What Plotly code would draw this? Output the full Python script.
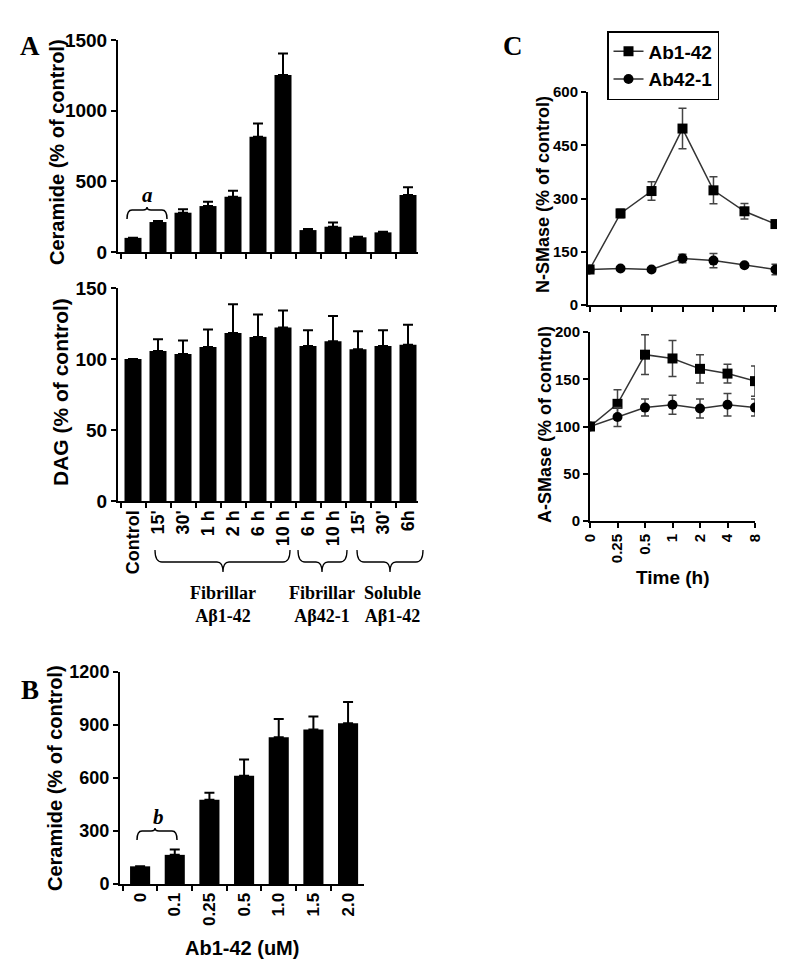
import plotly.graph_objects as go

W, H = 800, 971
OX, OY = 8, 8  # page body margin offset

# ---------------- data ----------------
# Panel A (ceramide / DAG time course)
a_groups = ["Control", "Fibrillar Aβ1-42", "Fibrillar Aβ1-42", "Fibrillar Aβ1-42",
            "Fibrillar Aβ1-42", "Fibrillar Aβ1-42", "Fibrillar Aβ1-42",
            "Fibrillar Aβ42-1", "Fibrillar Aβ42-1",
            "Soluble Aβ1-42", "Soluble Aβ1-42", "Soluble Aβ1-42"]
a_labels = ["Control", "15'", "30'", "1 h", "2 h", "6 h", "10 h", "6 h", "10 h", "15'", "30'", "6h"]
ceramide_a = [100, 212, 278, 325, 391, 815, 1252, 155, 179, 104, 139, 403]
ceramide_a_err = [0, 8, 24, 31, 43, 95, 152, 8, 30, 4, 5, 55]
dag_a = [100, 105.6, 103.5, 108.5, 118.3, 115.5, 122.1, 109.2, 112.5, 106.8, 109.2, 110.1]
dag_a_err = [0, 8.3, 9.5, 12.2, 20.2, 15.8, 12.0, 11.0, 17.8, 12.7, 11.0, 14.1]

# Panel B (dose response)
b_conc = ["0", "0.1", "0.25", "0.5", "1.0", "1.5", "2.0"]
ceramide_b = [100, 165, 477, 613, 830, 875, 910]
ceramide_b_err = [0, 30, 40, 92, 104, 73, 120]

# Panel C (time course, SMase activity)
c_time = ["0", "0.25", "0.5", "1", "2", "4", "8"]
nsmase_142 = [100, 258, 321, 497, 323, 264, 228]
nsmase_142_err = [0, 12, 26, 57, 38, 22, 10]
nsmase_421 = [100, 103, 100, 131, 125, 112, 100]
nsmase_421_err = [0, 5, 5, 12, 20, 5, 15]
asmase_142 = [100, 124, 176, 172, 161, 156, 148]
asmase_142_err = [0, 15, 21, 19, 15, 10, 16]
asmase_421 = [100, 110, 120, 123, 119, 123, 120]
asmase_421_err = [0, 10, 9, 10, 10, 12, 9]

# ---------------- helpers ----------------
def px(x):
    return (x - OX) / W

def py(y):
    return 1 - (y - OY) / H

def xd(a, b):
    return [px(a), px(b)]

def yd(top, bottom):
    return [py(bottom), py(top)]

def pt(x, y):
    return f"{px(x):.5f},{py(y):.5f}"

SANS = "Liberation Sans"
SERIF = "Liberation Serif"

a_keys = [f"{g}|{l}" for g, l in zip(a_groups, a_labels)]
b_keys = [f"{c} uM" for c in b_conc]
c_idx = list(range(len(c_time)))

fig = go.Figure()

def bar_trace(x, y, err, xa, ya, width):
    return go.Bar(
        x=x, y=y, xaxis=xa, yaxis=ya, width=width,
        marker=dict(color="black", line=dict(width=0)),
        error_y=dict(type="data", array=err, arrayminus=[0] * len(err), symmetric=False,
                     color="black", thickness=2, width=5),
        showlegend=False,
    )

fig.add_trace(bar_trace(a_keys, ceramide_a, ceramide_a_err, "x", "y", 0.68))
fig.add_trace(bar_trace(a_keys, dag_a, dag_a_err, "x2", "y2", 0.68))
fig.add_trace(bar_trace(b_keys, ceramide_b, ceramide_b_err, "x3", "y3", 0.58))

def line_trace(y, err, symbol, name, xa, ya, legend):
    return go.Scatter(
        x=c_idx, y=y, xaxis=xa, yaxis=ya, name=name, mode="lines+markers",
        line=dict(color="#333333", width=1.5),
        marker=dict(symbol=symbol, size=10, color="black"),
        error_y=dict(type="data", array=err, color="#444444", thickness=1.5, width=4),
        showlegend=legend,
    )

fig.add_trace(line_trace(nsmase_142, nsmase_142_err, "square", "Ab1-42", "x4", "y4", True))
fig.add_trace(line_trace(nsmase_421, nsmase_421_err, "circle", "Ab42-1", "x4", "y4", True))
fig.add_trace(line_trace(asmase_142, asmase_142_err, "square", "Ab1-42", "x5", "y5", False))
fig.add_trace(line_trace(asmase_421, asmase_421_err, "circle", "Ab42-1", "x5", "y5", False))

axis_common = dict(showline=True, linecolor="black", linewidth=2, ticks="outside",
                   ticklen=5, tickwidth=1.5, tickcolor="black", showgrid=False,
                   zeroline=False, automargin=False)

tf = lambda s: dict(family=SANS, size=s, color="black", weight="bold")

fig.update_layout(
    width=W, height=H, margin=dict(l=0, r=0, t=0, b=0),
    paper_bgcolor="white", plot_bgcolor="white",
    font=dict(family=SANS, color="black"),
    bargap=0.3,
    # A top: ceramide
    xaxis=dict(domain=xd(118, 418), anchor="y", type="category", range=[-0.6, 11.4],
               tickson="boundaries", showticklabels=False, **axis_common),
    yaxis=dict(domain=yd(40, 252), anchor="x", range=[0, 1500], tickvals=[0, 500, 1000, 1500],
               tickfont=tf(19), **axis_common),
    # A bottom: DAG
    xaxis2=dict(domain=xd(118, 418), anchor="y2", type="category", range=[-0.6, 11.4],
                tickson="boundaries", tickmode="array", tickvals=a_keys, ticktext=a_labels,
                tickangle=-90, tickfont=tf(18), **axis_common),
    yaxis2=dict(domain=yd(288, 501), anchor="x2", range=[0, 150], tickvals=[0, 50, 100, 150],
                tickfont=tf(19), **axis_common),
    # B
    xaxis3=dict(domain=xd(120, 364), anchor="y3", type="category", range=[-0.58, 6.46],
                tickson="boundaries", tickmode="array", tickvals=b_keys, ticktext=b_conc,
                tickangle=-90, tickfont=tf(17), **axis_common),
    yaxis3=dict(domain=yd(672, 884), anchor="x3", range=[0, 1200],
                tickvals=[0, 300, 600, 900, 1200], tickfont=tf(18), **axis_common),
    # C top: N-SMase
    xaxis4=dict(domain=xd(588, 777), anchor="y4", range=[-0.05, 6.05], tickmode="array",
                tickvals=c_idx, showticklabels=False, **axis_common),
    yaxis4=dict(domain=yd(92, 305), anchor="x4", range=[0, 600],
                tickvals=[0, 150, 300, 450, 600], tickfont=tf(15), **axis_common),
    # C bottom: A-SMase
    xaxis5=dict(domain=xd(590, 755), anchor="y5", range=[0, 6.0], tickmode="array",
                tickvals=c_idx, ticktext=c_time, tickangle=-90, tickfont=tf(15), **axis_common),
    yaxis5=dict(domain=yd(332, 521), anchor="x5", range=[0, 200],
                tickvals=[0, 50, 100, 150, 200], tickfont=tf(15), **axis_common),
    legend=dict(x=px(607), y=py(31), xanchor="left", yanchor="top",
                bordercolor="black", borderwidth=1.5, bgcolor="white",
                font=dict(family=SANS, size=19, color="black", weight="bold"),
                itemwidth=30, tracegroupgap=4),
)

ann = []
def text(x, y, t, size, family=SANS, angle=0, xanchor="center", yanchor="middle", bold=True, italic=False):
    ann.append(dict(x=px(x), y=py(y), xref="paper", yref="paper", text=t, showarrow=False,
                    textangle=angle, xanchor=xanchor, yanchor=yanchor,
                    font=dict(family=family, size=size, color="black",
                              weight="bold" if bold else "normal",
                              style="italic" if italic else "normal")))

# axis titles
text(57, 152, "Ceramide (% of control)", 20, angle=-90)
text(61, 392, "DAG (% of control)", 21, angle=-90)
text(55, 778, "Ceramide (% of control)", 20, angle=-90)
text(242, 948, "Ab1-42 (uM)", 20)
text(543, 195, "N-SMase (% of control)", 18, angle=-90)
text(545, 425, "A-SMase (% of control)", 18, angle=-90)
text(673, 577, "Time (h)", 19)

# panel letters
text(30, 46, "A", 27, family=SERIF)
text(30, 690, "B", 27, family=SERIF)
text(513, 46, "C", 27, family=SERIF)

# group labels
text(223, 604, "Fibrillar<br>Aβ1-42", 18, family=SERIF)
text(322, 604, "Fibrillar<br>Aβ42-1", 18, family=SERIF)
text(392, 604, "Soluble<br>Aβ1-42", 18, family=SERIF)

# significance letters
text(147, 209, "a", 21, family=SERIF, yanchor="bottom", italic=True)
text(158, 831, "b", 21, family=SERIF, yanchor="bottom", italic=True)

fig.update_layout(annotations=ann)

# braces
shapes = []
def brace_down(x1, x2, xm, ytop, yline, ybot):
    path = (f"M{pt(x1, ytop)} Q{pt(x1, yline)} {pt(x1 + 7, yline)} L{pt(xm - 6, yline)} "
            f"Q{pt(xm, yline)} {pt(xm, ybot)} Q{pt(xm, yline)} {pt(xm + 6, yline)} "
            f"L{pt(x2 - 7, yline)} Q{pt(x2, yline)} {pt(x2, ytop)}")
    shapes.append(dict(type="path", path=path, xref="paper", yref="paper",
                       line=dict(color="black", width=1.3)))

def brace_up(x1, x2, xm, yend, yline, ypeak):
    path = (f"M{pt(x1, yend)} Q{pt(x1, yline)} {pt(x1 + 5, yline)} L{pt(xm - 4, yline)} "
            f"Q{pt(xm, yline)} {pt(xm, ypeak)} Q{pt(xm, yline)} {pt(xm + 4, yline)} "
            f"L{pt(x2 - 5, yline)} Q{pt(x2, yline)} {pt(x2, yend)}")
    shapes.append(dict(type="path", path=path, xref="paper", yref="paper",
                       line=dict(color="black", width=1.5)))

brace_down(155, 290, 223, 550, 562, 572)
brace_down(298, 347, 322, 550, 562, 572)
brace_down(357, 423, 390, 550, 562, 572)
brace_up(127, 167, 147, 219, 210, 207)
brace_up(137, 177, 155, 840, 831, 828)

fig.update_layout(shapes=shapes)

fig.write_html("out.html")
